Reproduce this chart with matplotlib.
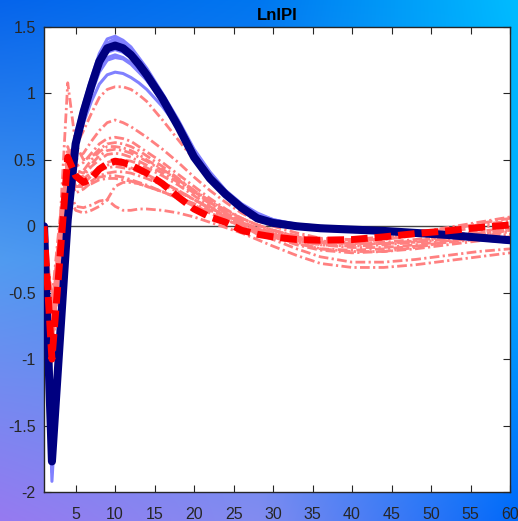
import numpy as np
import matplotlib
matplotlib.use("Agg")
import matplotlib.pyplot as plt

horizon = [1, 2, 3, 4, 5, 6, 7, 8, 9, 10, 11, 12, 13, 14, 16, 18, 20, 22, 24, 26,
           28, 30, 33, 36, 40, 44, 48, 52, 56, 60]

# main response (dark blue, solid)
irf_main = [0, -1.77, -0.86, 0.05, 0.62, 0.86, 1.06, 1.24, 1.34, 1.36, 1.34, 1.29, 1.22, 1.14,
            0.96, 0.75, 0.52, 0.36, 0.24, 0.14, 0.06, 0.025, 0.0, -0.015, -0.025, -0.035,
            -0.05, -0.065, -0.085, -0.105]

# comparison response (red, dashed)
irf_alt = [0, -1.0, -0.25, 0.52, 0.38, 0.33, 0.36, 0.43, 0.47, 0.49, 0.48, 0.46, 0.43, 0.40,
           0.32, 0.22, 0.13, 0.07, 0.03, -0.03, -0.06, -0.08, -0.10, -0.105, -0.10, -0.08,
           -0.055, -0.035, -0.01, 0.01]

# light blue draws around the main response
blue_draws = [
    [0, -1.92, -0.9, 0.1, 0.7, 0.92, 1.12, 1.3, 1.41, 1.43, 1.4, 1.35, 1.27, 1.19, 1.0, 0.8,
     0.58, 0.41, 0.27, 0.17, 0.1, 0.05, 0.01, -0.01, -0.02, -0.03, -0.045, -0.06, -0.08, -0.1],
    [0, -1.8, -0.88, 0.08, 0.66, 0.88, 1.08, 1.26, 1.37, 1.39, 1.36, 1.31, 1.24, 1.16, 0.98, 0.78,
     0.56, 0.39, 0.25, 0.15, 0.08, 0.04, 0.005, -0.01, -0.02, -0.03, -0.045, -0.06, -0.08, -0.1],
    [0, -1.7, -0.84, 0.06, 0.64, 0.84, 1.02, 1.18, 1.27, 1.29, 1.27, 1.23, 1.17, 1.1, 0.94, 0.75,
     0.55, 0.38, 0.24, 0.15, 0.08, 0.04, 0.01, -0.01, -0.03, -0.04, -0.06, -0.08, -0.1, -0.12],
    [0, -1.75, -0.85, 0.05, 0.63, 0.82, 1.0, 1.16, 1.25, 1.27, 1.26, 1.22, 1.16, 1.1, 0.94, 0.76,
     0.56, 0.39, 0.25, 0.15, 0.08, 0.04, 0.01, -0.01, -0.02, -0.04, -0.06, -0.08, -0.1, -0.12],
    [0, -1.65, -0.82, 0.04, 0.6, 0.78, 0.94, 1.07, 1.14, 1.16, 1.15, 1.12, 1.08, 1.03, 0.9, 0.74,
     0.55, 0.39, 0.26, 0.16, 0.09, 0.05, 0.015, 0.0, -0.015, -0.03, -0.05, -0.07, -0.09, -0.11],
    [0, -1.85, -0.9, 0.08, 0.68, 0.9, 1.1, 1.28, 1.38, 1.41, 1.38, 1.33, 1.26, 1.18, 0.99, 0.79,
     0.57, 0.4, 0.26, 0.16, 0.09, 0.045, 0.01, -0.01, -0.02, -0.035, -0.05, -0.065, -0.085, -0.105],
    [0, -1.72, -0.84, 0.05, 0.62, 0.86, 1.04, 1.22, 1.31, 1.33, 1.31, 1.27, 1.2, 1.13, 0.96, 0.77,
     0.56, 0.39, 0.25, 0.15, 0.08, 0.04, 0.01, -0.01, -0.03, -0.04, -0.055, -0.07, -0.09, -0.115],
]

# light red draws (dash-dot)
red_draws = [
    [0, -0.7, -0.1, 0.55, 0.6, 0.72, 0.85, 0.97, 1.03, 1.05, 1.05, 1.03, 0.99, 0.94, 0.8, 0.65,
     0.5, 0.36, 0.24, 0.15, 0.08, 0.03, -0.01, -0.03, -0.04, -0.05, -0.06, -0.07, -0.08, -0.09],
    [0, -0.8, 0.0, 1.08, 0.62, 0.5, 0.52, 0.58, 0.62, 0.63, 0.62, 0.6, 0.57, 0.53, 0.45, 0.36,
     0.27, 0.19, 0.12, 0.06, 0.01, -0.03, -0.08, -0.11, -0.13, -0.13, -0.12, -0.1, -0.08, -0.06],
    [0, -0.9, -0.2, 0.45, 0.5, 0.55, 0.64, 0.72, 0.78, 0.8, 0.78, 0.75, 0.71, 0.67, 0.58, 0.48,
     0.37, 0.27, 0.18, 0.1, 0.04, 0.0, -0.05, -0.09, -0.1, -0.09, -0.07, -0.04, -0.01, 0.02],
    [0, -0.85, -0.15, 0.5, 0.45, 0.48, 0.55, 0.62, 0.66, 0.67, 0.66, 0.64, 0.6, 0.56, 0.48, 0.39,
     0.3, 0.21, 0.13, 0.06, 0.01, -0.03, -0.08, -0.12, -0.14, -0.13, -0.11, -0.08, -0.05, -0.02],
    [0, -0.75, -0.05, 0.6, 0.4, 0.42, 0.5, 0.56, 0.6, 0.6, 0.59, 0.57, 0.54, 0.5, 0.43, 0.35,
     0.26, 0.18, 0.1, 0.03, -0.03, -0.08, -0.14, -0.18, -0.2, -0.19, -0.16, -0.12, -0.08, -0.04],
    [0, -0.95, -0.25, 0.4, 0.35, 0.38, 0.45, 0.5, 0.54, 0.55, 0.54, 0.52, 0.49, 0.46, 0.4, 0.33,
     0.25, 0.17, 0.1, 0.04, -0.02, -0.06, -0.12, -0.17, -0.19, -0.19, -0.17, -0.14, -0.11, -0.08],
    [0, -0.8, -0.1, 0.5, 0.3, 0.32, 0.38, 0.42, 0.44, 0.45, 0.44, 0.43, 0.41, 0.38, 0.33, 0.27,
     0.2, 0.13, 0.07, 0.01, -0.06, -0.1, -0.17, -0.23, -0.27, -0.27, -0.25, -0.22, -0.19, -0.17],
    [0, -0.7, -0.05, 0.35, 0.3, 0.3, 0.34, 0.38, 0.4, 0.41, 0.41, 0.4, 0.38, 0.36, 0.31, 0.26,
     0.2, 0.14, 0.08, 0.03, -0.01, -0.05, -0.09, -0.12, -0.12, -0.1, -0.07, -0.03, 0.02, 0.06],
    [0, -0.6, 0.0, 0.3, 0.15, 0.14, 0.16, 0.19, 0.2, 0.15, 0.12, 0.12, 0.13, 0.13, 0.12, 0.1,
     0.07, 0.03, -0.01, -0.05, -0.1, -0.15, -0.22, -0.28, -0.31, -0.31, -0.29, -0.26, -0.23, -0.2],
    [0, -0.65, -0.05, 0.25, 0.12, 0.1, 0.12, 0.15, 0.2, 0.3, 0.33, 0.33, 0.32, 0.3, 0.26, 0.22,
     0.17, 0.12, 0.07, 0.02, -0.02, -0.06, -0.1, -0.14, -0.16, -0.16, -0.14, -0.11, -0.07, -0.03],
    [0, -1.0, -0.3, 0.3, 0.35, 0.36, 0.4, 0.44, 0.48, 0.5, 0.5, 0.49, 0.47, 0.44, 0.38, 0.31,
     0.23, 0.15, 0.08, 0.02, -0.03, -0.07, -0.11, -0.13, -0.12, -0.09, -0.05, -0.01, 0.03, 0.07],
    [0, -0.55, 0.05, 0.45, 0.25, 0.28, 0.33, 0.37, 0.38, 0.38, 0.37, 0.35, 0.33, 0.31, 0.26, 0.21,
     0.15, 0.1, 0.05, 0.0, -0.04, -0.07, -0.11, -0.14, -0.15, -0.14, -0.12, -0.09, -0.06, -0.03],
    [0, -0.9, -0.2, 0.55, 0.42, 0.4, 0.47, 0.53, 0.57, 0.58, 0.57, 0.55, 0.52, 0.49, 0.42, 0.35,
     0.27, 0.19, 0.12, 0.06, 0.01, -0.03, -0.07, -0.1, -0.1, -0.08, -0.05, -0.02, 0.01, 0.04],
    [0, -0.8, -0.15, 0.4, 0.3, 0.3, 0.32, 0.35, 0.36, 0.36, 0.35, 0.34, 0.32, 0.3, 0.26, 0.21,
     0.16, 0.1, 0.05, 0.0, -0.04, -0.08, -0.13, -0.17, -0.18, -0.17, -0.15, -0.12, -0.1, -0.08],
    [0, -0.75, -0.1, 0.45, 0.35, 0.36, 0.4, 0.44, 0.46, 0.47, 0.46, 0.44, 0.42, 0.39, 0.33, 0.27,
     0.2, 0.14, 0.08, 0.03, -0.02, -0.05, -0.09, -0.12, -0.13, -0.12, -0.1, -0.07, -0.04, -0.01],
]

x_ticks = [5, 10, 15, 20, 25, 30, 35, 40, 45, 50, 55, 60]
y_ticks = [-2, -1.5, -1, -0.5, 0, 0.5, 1, 1.5]
y_tick_labels = ["-2", "-1.5", "-1", "-0.5", "0", "0.5", "1", "1.5"]

plt.rcParams["font.family"] = ["Liberation Sans", "DejaVu Sans"]

fig = plt.figure(figsize=(5.18, 5.21), dpi=100)

# gradient background behind everything
bg = fig.add_axes([0, 0, 1, 1], zorder=-10)
corners = np.array([
    [[5, 100, 235], [0, 118, 240], [0, 188, 255]],
    [[80, 155, 240], [60, 140, 245], [0, 170, 255]],
    [[150, 122, 240], [130, 140, 240], [0, 105, 250]],
]) / 255.0
bg.imshow(corners, extent=[-0.25, 1.25, 1.25, -0.25], interpolation="bilinear", aspect="auto")
bg.set_xlim(0, 1)
bg.set_ylim(1, 0)
bg.axis("off")

ax = fig.add_axes([0.085, 0.0557, 0.8996, 0.8925])
ax.set_facecolor("white")

ax.axhline(0, color="#444444", lw=1.0, zorder=1)
for d in red_draws:
    ax.plot(horizon, d, color="#ff8080", lw=2.0, dashes=(3.5, 1.2, 0.8, 1.2), zorder=2)
for d in blue_draws:
    ax.plot(horizon, d, color="#8080ff", lw=2.2, zorder=3)
ax.plot(horizon, irf_main, color="#000080", lw=5.8, zorder=4, solid_capstyle="round")
ax.plot(horizon, irf_alt, color="#ff0000", lw=5.0, dashes=(2.4, 1.0), zorder=5)

ax.set_xlim(1, 60)
ax.set_ylim(-2, 1.5)
ax.set_xticks(x_ticks)
ax.set_yticks(y_ticks)
ax.set_yticklabels(y_tick_labels)
ax.tick_params(direction="in", length=5, width=0.8, top=True, right=True,
               labelsize=11.5, colors="#262626", labelcolor="#262626")
ax.tick_params(axis="x", pad=11)
ax.tick_params(axis="y", pad=6)
for s in ax.spines.values():
    s.set_color("#262626")
    s.set_linewidth(1.0)

ax.set_title("LnIPI", fontsize=12, fontweight="bold", pad=5)

fig.savefig("out.png", dpi=100)
